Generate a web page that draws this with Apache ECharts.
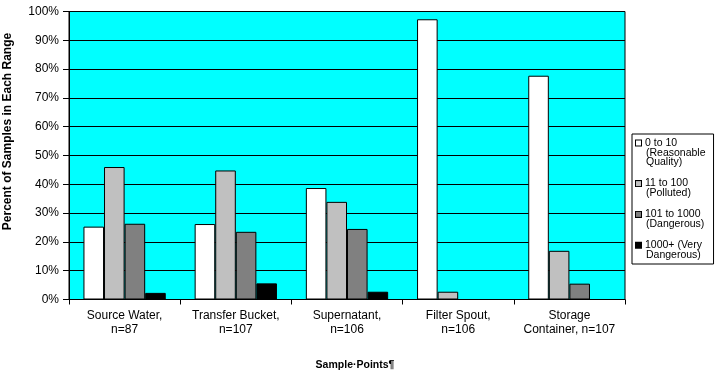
<!DOCTYPE html>
<html>
<head>
<meta charset="utf-8">
<script src="https://cdn.jsdelivr.net/npm/echarts@6/dist/echarts.min.js"></script>
<style>
html,body{margin:0;padding:0;background:#fff;}
#chart{width:715px;height:381px;}
</style>
</head>
<body>
<div id="chart"></div>
<script>
const categories = ['Source Water,\nn=87', 'Transfer Bucket,\nn=107', 'Supernatant,\nn=106', 'Filter Spout,\nn=106', 'Storage\nContainer, n=107'];
const seriesNames = ['0 to 10 (Reasonable Quality)', '11 to 100 (Polluted)', '101 to 1000 (Dangerous)', '1000+ (Very Dangerous)'];
const legendLines = [
  ['0 to 10', '(Reasonable', 'Quality)'],
  ['11 to 100', '(Polluted)'],
  ['101 to 1000', '(Dangerous)'],
  ['1000+ (Very', 'Dangerous)']
];
const reasonable = [25.3, 26.2, 38.7, 97.3, 77.7];
const polluted = [46.0, 44.8, 33.9, 2.7, 16.9];
const dangerous = [26.3, 23.5, 24.5, 0, 5.5];
const veryDangerous = [2.3, 5.6, 2.7, 0, 0];
const seriesValues = [reasonable, polluted, dangerous, veryDangerous];
const colors = ['#FFFFFF', '#C0C0C0', '#808080', '#000000'];
const yTicks = { min: 0, max: 100, interval: 10 };
const xTitle = 'Sample·Points¶';
const yTitle = 'Percent of Samples in Each Range';

const chart = echarts.init(document.getElementById('chart'));
const rich = {
  t: { fontFamily: 'Liberation Sans', fontSize: 10.5, lineHeight: 9.8, color: '#000', padding: [0, 0, 0, 4] },
  e: { width: 6, height: 6, lineHeight: 9.8 }
};
colors.forEach((c, i) => {
  rich['s' + i] = { width: 5, height: 5, lineHeight: 9.8, backgroundColor: c, borderColor: '#000', borderWidth: 1 };
});

chart.setOption({
  animation: false,
  backgroundColor: '#fff',
  grid: {
    left: 69, right: 90, top: 11.5, bottom: 81.5,
    outerBoundsMode: 'none',
    containLabel: false,
    show: true, backgroundColor: '#00FFFF', borderColor: '#000', borderWidth: 1
  },
  legend: {
    orient: 'vertical',
    left: 632, top: 134,
    icon: 'none',
    itemWidth: 0, itemHeight: 8,
    itemGap: 9,
    padding: [3, 8, 3, -1],
    borderColor: '#000', borderWidth: 1,
    selectedMode: false,
    data: seriesNames,
    formatter: function (name) {
      const idx = seriesNames.indexOf(name);
      return legendLines[idx].map((ln, j) => (j === 0 ? '{s' + idx + '|}' : '{e|}') + '{t|' + ln + '}').join('\n');
    },
    textStyle: { rich: rich }
  },
  xAxis: {
    type: 'category',
    data: categories,
    name: xTitle,
    nameLocation: 'middle',
    nameGap: 60,
    nameTextStyle: { fontFamily: 'Liberation Sans', fontWeight: 'bold', fontSize: 10.5, color: '#000', padding: [0, 0, 0, 16] },
    axisLine: { lineStyle: { color: '#000', width: 1 } },
    axisTick: { show: true, length: 5, lineStyle: { color: '#000' } },
    axisLabel: { fontFamily: 'Liberation Sans', fontSize: 12, color: '#000', margin: 9, lineHeight: 14, interval: 0 }
  },
  yAxis: {
    type: 'value',
    min: yTicks.min, max: yTicks.max, interval: yTicks.interval,
    name: yTitle,
    nameLocation: 'middle',
    nameGap: 55,
    nameTextStyle: { fontFamily: 'Liberation Sans', fontWeight: 'bold', fontSize: 12, color: '#000', padding: [0, 0, 0, 48] },
    axisLine: { show: true, lineStyle: { color: '#000', width: 1 } },
    axisTick: { show: true, length: 6, lineStyle: { color: '#000' } },
    axisLabel: { fontFamily: 'Liberation Sans', fontSize: 12, color: '#000', margin: 10, formatter: '{value}%' },
    splitLine: { show: true, lineStyle: { color: '#000', width: 1 } }
  },
  series: seriesNames.map((n, i) => ({
    name: n,
    type: 'bar',
    data: seriesValues[i],
    barGap: '0%',
    barCategoryGap: '26%',
    itemStyle: { color: colors[i], borderColor: '#000', borderWidth: 1 }
  }))
});
</script>
</body>
</html>
